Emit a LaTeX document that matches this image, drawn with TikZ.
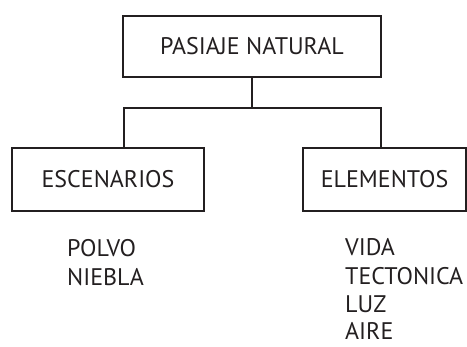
\documentclass[tikz,border=0pt]{standalone}
\usepackage{fontspec}
\setmainfont{PT Sans}
\definecolor{ink}{HTML}{231F20}
\begin{document}
\begin{tikzpicture}[x=1pt,y=-1pt,
  box/.style={draw=ink, line width=1.6pt, rectangle, inner sep=0pt, text=ink, font=\fontsize{24}{28}\selectfont},
  item/.style={anchor=base west, inner sep=0pt, text=ink, font=\fontsize{24}{28}\selectfont},
  link/.style={draw=ink, line width=1.6pt}]
\useasboundingbox (0,0) rectangle (467,347);
\node[box, minimum width=258pt, minimum height=61pt] (top) at (252,46.5) {PASIAJE NATURAL};
\node[box, minimum width=192pt, minimum height=63pt] (left) at (108,179.5) {ESCENARIOS};
\node[box, minimum width=163pt, minimum height=63pt] (right) at (384.5,179.5) {ELEMENTOS};
\coordinate (j) at (252,108);
\coordinate (lj) at (124,108);
\coordinate (rj) at (381,108);
\draw[link] (top.south) -- (j);
\draw[link, line cap=rect] (lj) -- (rj);
\draw[link] (lj) -- (lj |- left.north);
\draw[link] (rj) -- (rj |- right.north);
\node[item] (p1) at (67,257) {POLVO};
\node[item] (p2) at (67,286) {NIEBLA};
\node[item] (e1) at (345,256) {VIDA};
\node[item] (e2) at (345,284.5) {TECTONICA};
\node[item] (e3) at (345,312.5) {LUZ};
\node[item] (e4) at (345,340) {AIRE};
\end{tikzpicture}
\end{document}
